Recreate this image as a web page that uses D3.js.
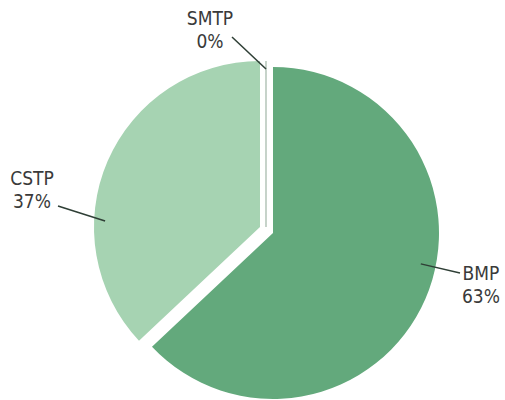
<!DOCTYPE html>
<html>
<head>
<meta charset="utf-8">
<script src="https://cdn.jsdelivr.net/npm/d3@7"></script>
<style>
  html, body { margin: 0; padding: 0; background: #ffffff; }
  svg text { font-family: "Liberation Sans Narrow", "DejaVu Sans Condensed", "Roboto", sans-serif; fill: #3a3a3a; }
</style>
</head>
<body>
<svg id="chart" width="505" height="400"></svg>
<script>
// Share of each programme (percent)
const categories = ["BMP", "CSTP", "SMTP"];
const shares = [63, 37, 0];
const shareLabels = ["63%", "37%", "0%"];

const width = 505, height = 400;
const cx = 273, cy = 233, radius = 166;

const colors = d3.scaleOrdinal()
  .domain(categories)
  .range(["#63a97c", "#a6d3b2", "#ffffff"]);

// Slice offsets away from the centre (exploded slices)
const explode = { BMP: [0, 0], CSTP: [-13, -6], SMTP: [-7, -6] };

// Label layout: leader start (angle in degrees, distance from slice centre),
// leader end and text anchor point
const labelLayout = {
  BMP:  { angle: 101.8, dist: 151, end: [460, 273], text: [481, 280] },
  CSTP: { angle: 272.2, dist: 155, end: [58, 206],  text: [32, 185] },
  SMTP: { angle: 0,     dist: 158, end: [232, 37],  text: [210, 25] }
};

const svg = d3.select("#chart");

const pie = d3.pie().sort(null).value(d => d.value);
const arc = d3.arc().innerRadius(0).outerRadius(radius);

const data = categories.map((c, i) => ({ name: c, value: shares[i], label: shareLabels[i] }));
const arcs = pie(data);

const g = svg.append("g").attr("transform", `translate(${cx},${cy})`);

g.selectAll("path.slice")
  .data(arcs)
  .join("path")
  .attr("class", "slice")
  .attr("transform", d => `translate(${explode[d.data.name][0]},${explode[d.data.name][1]})`)
  .attr("d", arc)
  .attr("fill", d => colors(d.data.name))
  .attr("stroke", d => d.data.value === 0 ? "#b9c9bd" : "none")
  .attr("stroke-width", d => d.data.value === 0 ? 1.6 : 0);

// Leader lines and labels
arcs.forEach(d => {
  const lay = labelLayout[d.data.name];
  const off = explode[d.data.name];
  const a = lay.angle * Math.PI / 180;
  const x1 = cx + off[0] + Math.sin(a) * lay.dist;
  const y1 = cy + off[1] - Math.cos(a) * lay.dist;
  svg.append("line")
    .attr("x1", x1).attr("y1", y1)
    .attr("x2", lay.end[0]).attr("y2", lay.end[1])
    .attr("stroke", "#2f3f36")
    .attr("stroke-width", 1.5);
  const t = svg.append("text")
    .attr("text-anchor", "middle")
    .attr("font-size", 19);
  t.append("tspan").attr("x", lay.text[0]).attr("y", lay.text[1]).text(d.data.name);
  t.append("tspan").attr("x", lay.text[0]).attr("y", lay.text[1] + 23).text(d.data.label);
});
</script>
</body>
</html>
